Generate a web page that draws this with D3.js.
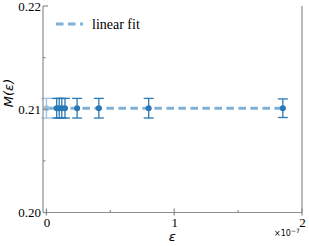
<!DOCTYPE html>
<html><head><meta charset="utf-8">
<script src="https://cdn.jsdelivr.net/npm/d3@7"></script>
<style>body{margin:0;background:#fff}svg{display:block}</style>
</head><body>
<script>
const epsValues = [0, 0.08e-7, 0.10e-7, 0.12e-7, 0.145e-7, 0.24e-7, 0.41e-7, 0.80e-7, 1.85e-7];
const mValues   = [0.2101, 0.2101, 0.2101, 0.2101, 0.2101, 0.2101, 0.2101, 0.2101, 0.2101];
const mErrors   = [0.00095, 0.00095, 0.00095, 0.00095, 0.00095, 0.00095, 0.00095, 0.00095, 0.00090];
const fitX = [0, 1.85e-7];
const fitY = [0.2101, 0.2101];
const xTicks = [0, 1e-7, 2e-7];
const xTickLabels = ["0", "1", "2"];
const xMinor = [0.5e-7, 1.5e-7];
const yTicks = [0.20, 0.21, 0.22];
const yTickLabels = ["0.20", "0.21", "0.22"];
const yMinor = [0.205, 0.215];

const W = 309, H = 246;
const L = 43, R = 302, T = 6, B = 212.5;
const svg = d3.select("body").append("svg").attr("width", W).attr("height", H);
const x = d3.scaleLinear().domain([-0.027e-7, 2e-7]).range([L, R]);
const y = d3.scaleLinear().domain([0.20, 0.22]).range([B, T]);
const axisCol = "#8c8c8c";
const blue = "#2a78b5";
const fitCol = "#7fb0d8";

// fit line
svg.append("line")
  .attr("x1", x(fitX[0])).attr("x2", x(fitX[1]))
  .attr("y1", y(fitY[0])).attr("y2", y(fitY[1]))
  .attr("stroke", fitCol).attr("stroke-width", 3)
  .attr("stroke-dasharray", "7.5,4.5");

// error bars and points
const g = svg.append("g");
epsValues.forEach((e, i) => {
  const c = i === 0 ? "#9cc1e0" : blue;
  const cx = x(e), y0 = y(mValues[i] - mErrors[i]), y1 = y(mValues[i] + mErrors[i]);
  g.append("line").attr("x1", cx).attr("x2", cx).attr("y1", y0).attr("y2", y1)
    .attr("stroke", c).attr("stroke-width", 1.3);
  [y0, y1].forEach(yy => g.append("line").attr("x1", cx - 5).attr("x2", cx + 5)
    .attr("y1", yy).attr("y2", yy).attr("stroke", c).attr("stroke-width", 1.3));
  g.append("circle").attr("cx", cx).attr("cy", y(mValues[i])).attr("r", 3).attr("fill", c);
});

// axes
const ax = svg.append("g").attr("stroke", axisCol).attr("stroke-width", 1.2);
ax.append("line").attr("x1", L).attr("x2", L).attr("y1", T).attr("y2", B);
ax.append("line").attr("x1", L).attr("x2", R).attr("y1", B).attr("y2", B);
ax.append("line").attr("x1", R).attr("x2", R).attr("y1", T).attr("y2", B);

// x ticks
const xAxis = d3.axisBottom(x).tickValues(xTicks).tickFormat((d, i) => xTickLabels[i]).tickSize(0).tickPadding(5);
const xg = svg.append("g").attr("transform", `translate(0,${B})`).call(xAxis);
xg.select(".domain").remove();
xg.selectAll("text").attr("font-family", "Liberation Serif").attr("font-size", 13).attr("fill", "#000");
xTicks.forEach(t => ax.append("line").attr("x1", x(t)).attr("x2", x(t)).attr("y1", B - 4).attr("y2", B + 3));
xMinor.forEach(t => ax.append("line").attr("x1", x(t)).attr("x2", x(t)).attr("y1", B - 2.5).attr("y2", B));

// y ticks
const yAxis = d3.axisLeft(y).tickValues(yTicks).tickFormat((d, i) => yTickLabels[i]).tickSize(0).tickPadding(2);
const yg = svg.append("g").attr("transform", `translate(${L},0)`).call(yAxis);
yg.select(".domain").remove();
yg.selectAll("text").attr("font-family", "Liberation Serif").attr("font-size", 13).attr("fill", "#000");
yTicks.forEach(t => ax.append("line").attr("x1", L).attr("x2", L + 5).attr("y1", y(t)).attr("y2", y(t)));
yMinor.forEach(t => ax.append("line").attr("x1", L).attr("x2", L + 2.5).attr("y1", y(t)).attr("y2", y(t)));

// labels
svg.append("text").attr("x", x(1e-7) - 2).attr("y", 241).attr("text-anchor", "middle")
  .attr("font-family", "DejaVu Sans").attr("font-style", "italic").attr("font-size", 13).attr("fill", "#000").text("ε");
svg.append("text").attr("transform", "translate(13,93) rotate(-90)").attr("text-anchor", "middle")
  .attr("font-family", "DejaVu Sans").attr("font-style", "italic").attr("font-size", 13).attr("fill", "#000").text("M(ε)");
const ex = svg.append("text").attr("x", 274).attr("y", 236).attr("font-family", "DejaVu Sans")
  .attr("font-size", 8).attr("fill", "#000");
ex.append("tspan").text("×10");
ex.append("tspan").attr("dy", -3).attr("font-size", 6).text("−7");

// legend
svg.append("line").attr("x1", 56).attr("x2", 83).attr("y1", 24).attr("y2", 24)
  .attr("stroke", fitCol).attr("stroke-width", 3).attr("stroke-dasharray", "7.5,4.5");
svg.append("text").attr("x", 92).attr("y", 28.5).attr("font-family", "Liberation Serif")
  .attr("font-size", 14).attr("fill", "#000").text("linear fit");
</script>
</body></html>
